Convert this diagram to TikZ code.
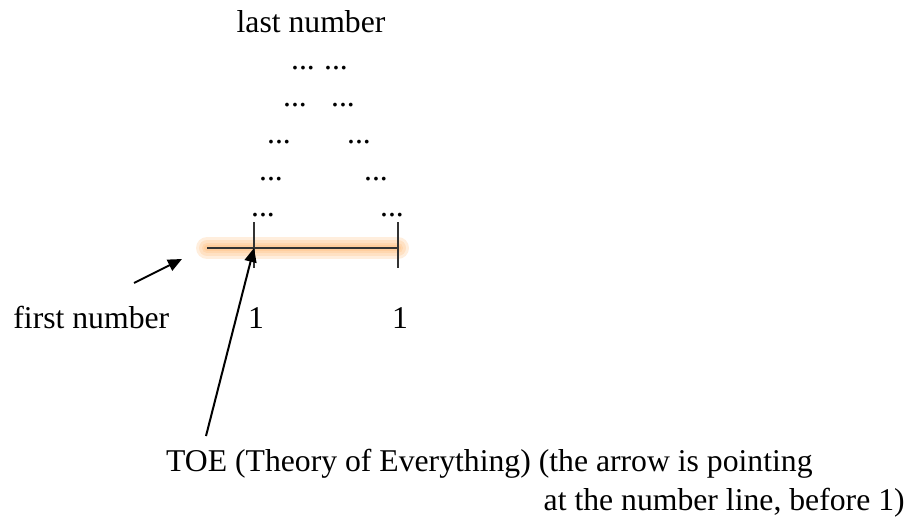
\documentclass[tikz,border=0pt]{standalone}
\usepackage{fontspec}
\setmainfont{Liberation Serif}
\usetikzlibrary{arrows.meta}

\begin{document}
\begin{tikzpicture}[x=0.5pt, y=-0.5pt,
    txt/.style={inner sep=0pt, font=\fontsize{15.85}{19}\selectfont, anchor=base},
    dots/.style={txt},
    glow/.style={line cap=round, color=orange!60, line width=#1, opacity=0.22},
    numline/.style={draw=black!80, line width=0.75pt},
    arr/.style={-{Triangle[length=7pt, width=6pt]}, line width=1pt}
]
\useasboundingbox (0,0) rectangle (919,519);

\node[txt] (last) at (311,33) {last number};
\node[dots] (l1) at (303,69) {...};
\node[dots] (r1) at (336,69) {...};
\node[dots] (l2) at (295,106) {...};
\node[dots] (r2) at (343,106) {...};
\node[dots] (l3) at (279,143) {...};
\node[dots] (r3) at (359,143) {...};
\node[dots] (l4) at (271,180) {...};
\node[dots] (r4) at (376,180) {...};
\node[dots] (l5) at (263,216) {...};
\node[dots] (r5) at (392,216) {...};

% orange glow under the number line
\coordinate (a) at (207,248);
\coordinate (b) at (398,248);
\draw[glow=11pt] (a) -- (b);
\draw[glow=8pt] (a) -- (b);
\draw[glow=5pt] (a) -- (b);
\draw[glow=3pt] (a) -- (b);

\coordinate (one) at (254,248);
\draw[numline] (a) -- (b);
\draw[numline] (254,222) -- (254,268);
\draw[numline] (398,222) -- (398,268);

\node[txt, anchor=base west] (first) at (13,328) {first number};
\node[txt] (n1) at (256,328) {1};
\node[txt] (n2) at (400,328) {1};

\node[txt, anchor=base east] (toe) at (813,471) {TOE (Theory of Everything) (the arrow is pointing};
\node[txt, anchor=base east] (toe2) at (905,510) {at the number line, before 1)};

\coordinate (ftail) at (134,283);
\coordinate (ftip) at (182,259);
\coordinate (ttail) at (206,436);
\draw[arr] (ftail) -- (ftip);
\draw[arr] (ttail) -- (one);
\end{tikzpicture}
\end{document}
